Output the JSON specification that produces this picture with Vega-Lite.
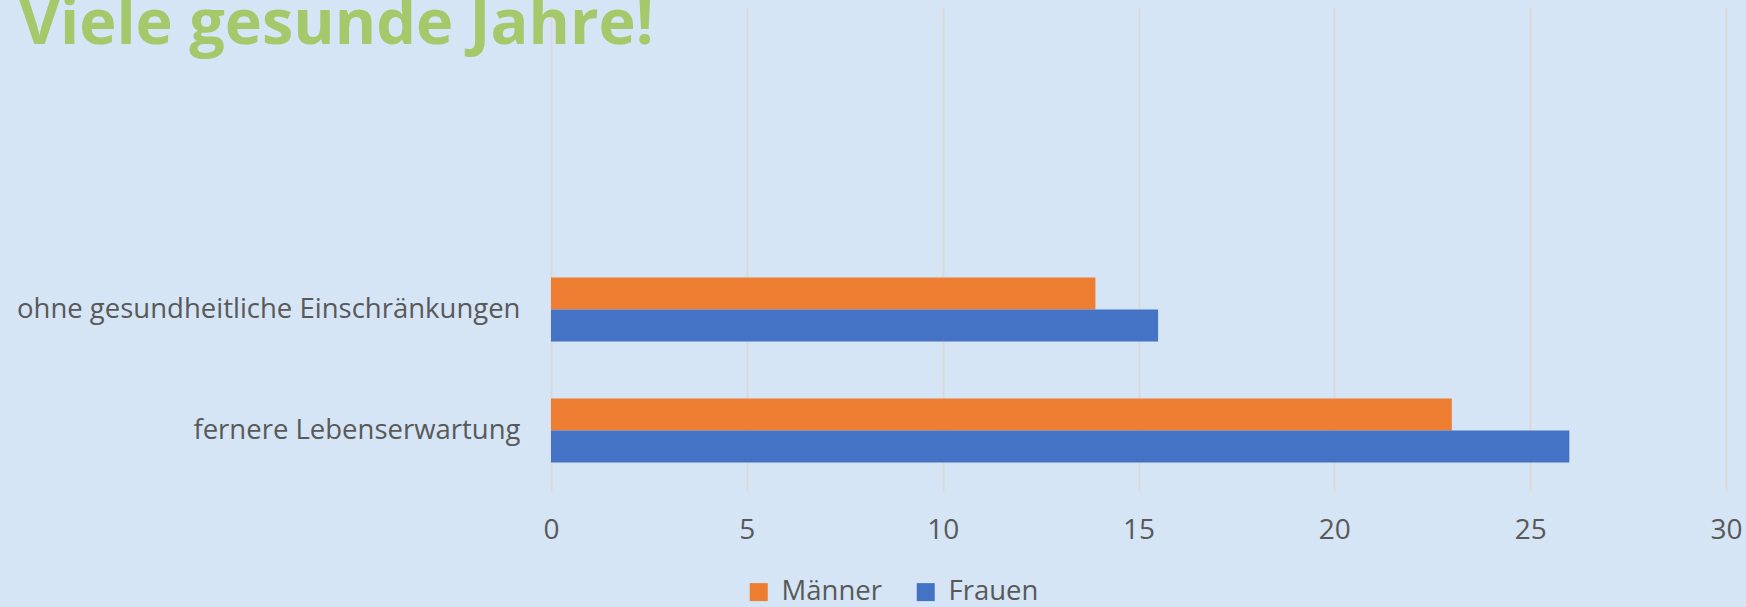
{
  "$schema": "https://vega.github.io/schema/vega-lite/v6.json",
  "autosize": "none",
  "width": 1175,
  "height": 484,
  "padding": {"left": 551, "top": 7, "right": 20, "bottom": 116},
  "background": "#D5E5F5",
  "config": {"view": {"stroke": null}, "font": "Open Sans"},
  "title": {
    "text": "Viele gesunde Jahre!",
    "font": "Open Sans",
    "fontSize": 63,
    "fontWeight": "bold",
    "color": "#A5C86B",
    "anchor": "start",
    "frame": "group",
    "orient": "top",
    "offset": -59,
    "baseline": "alphabetic",
    "dx": -532,
    "dy": 41
  },
  "data": {
    "values": [
      {"kategorie": "ohne gesundheitliche Einschränkungen", "geschlecht": "Männer", "jahre": 13.9},
      {"kategorie": "ohne gesundheitliche Einschränkungen", "geschlecht": "Frauen", "jahre": 15.5},
      {"kategorie": "fernere Lebenserwartung", "geschlecht": "Männer", "jahre": 23.0},
      {"kategorie": "fernere Lebenserwartung", "geschlecht": "Frauen", "jahre": 26.0}
    ]
  },
  "mark": {"type": "bar"},
  "encoding": {
    "y": {
      "field": "kategorie",
      "type": "nominal",
      "scale": {
        "domain": ["_1", "_2", "ohne gesundheitliche Einschränkungen", "fernere Lebenserwartung"],
        "paddingInner": 0.471,
        "paddingOuter": 0.2355
      },
      "axis": {
        "title": null,
        "domain": false,
        "ticks": false,
        "grid": false,
        "labelExpr": "indexof(datum.value, '_') == 0 ? '' : datum.value",
        "labelFont": "Open Sans",
        "labelFontSize": 27.5,
        "labelColor": "#595959",
        "labelPadding": 31,
        "labelLimit": 700
      }
    },
    "yOffset": {
      "field": "geschlecht",
      "type": "nominal",
      "scale": {"domain": ["Männer", "Frauen"], "paddingInner": 0, "paddingOuter": 0}
    },
    "x": {
      "field": "jahre",
      "type": "quantitative",
      "scale": {"domain": [0, 30], "nice": false},
      "axis": {
        "title": null,
        "values": [0, 5, 10, 15, 20, 25, 30],
        "domain": false,
        "ticks": false,
        "grid": true,
        "gridColor": "#D9D9D9",
        "gridWidth": 2,
        "labelFont": "Open Sans",
        "labelFontSize": 28,
        "labelColor": "#595959",
        "labelPadding": 39,
        "labelBaseline": "middle",
        "labelFlush": false
      }
    },
    "color": {
      "field": "geschlecht",
      "type": "nominal",
      "scale": {"domain": ["Männer", "Frauen"], "range": ["#ED7D31", "#4472C4"]},
      "legend": {
        "title": null,
        "orient": "none",
        "direction": "horizontal",
        "legendX": 194,
        "legendY": 571,
        "symbolType": "square",
        "symbolSize": 324,
        "symbolStrokeWidth": 0,
        "symbolOpacity": 1,
        "labelFont": "Open Sans",
        "labelFontSize": 27.5,
        "labelColor": "#595959",
        "labelOffset": 9,
        "columnPadding": 30
      }
    }
  }
}
